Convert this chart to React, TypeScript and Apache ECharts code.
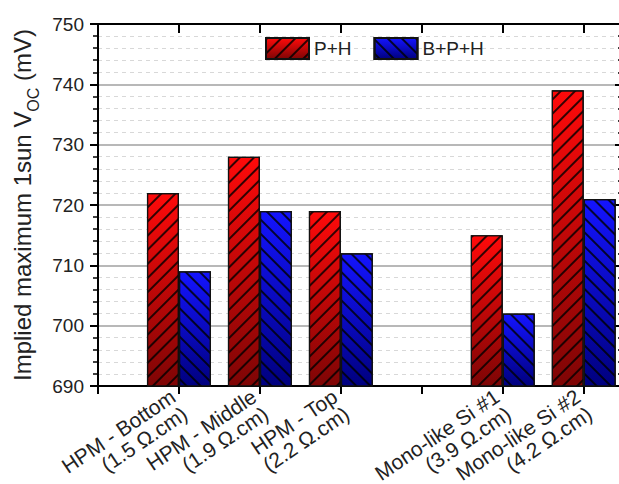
import React, { useEffect, useRef } from "react";
import * as echarts from "echarts";

const categories = [
  "HPM - Bottom\n(1.5 Ω.cm)",
  "HPM - Middle\n(1.9 Ω.cm)",
  "HPM - Top\n(2.2 Ω.cm)",
  "",
  "Mono-like Si #1\n(3.9 Ω.cm)",
  "Mono-like Si #2\n(4.2 Ω.cm)",
];
const seriesNames = ["P+H", "B+P+H"];
const phValues: (number | null)[] = [722, 728, 719, null, 715, 739];
const bphValues: (number | null)[] = [709, 719, 712, null, 702, 721];
const yMin = 690;
const yMax = 750;
const yStep = 10;

const FONT = "Arial, 'Liberation Sans', sans-serif";

function toPoints(vals: (number | null)[]) {
  return vals.map((v, i) => (v == null ? [i + 1, null] : [i + 1, v]));
}

function grad(top: string, bottom: string) {
  return new echarts.graphic.LinearGradient(0, 0, 0, 1, [
    { offset: 0, color: top },
    { offset: 1, color: bottom },
  ]);
}

export default function App() {
  const ref = useRef<HTMLDivElement>(null);
  useEffect(() => {
    document.body.style.margin = "0";
    const chart = echarts.init(ref.current!, null, { renderer: "svg" });
    const xCommon = {
      type: "value",
      min: 0,
      max: 6.46,
      interval: 1,
      splitLine: { show: false },
    };
    const yCommon = {
      type: "value",
      min: yMin,
      max: yMax,
      interval: yStep,
    };
    chart.setOption({
      animation: false,
      backgroundColor: "#ffffff",
      grid: { left: 98, top: 24, right: -2, bottom: 98, containLabel: false, outerBoundsMode: "none" },
      legend: {
        data: seriesNames,
        left: 265,
        top: 37,
        padding: 0,
        icon: "rect",
        itemWidth: 43,
        itemHeight: 21,
        itemGap: 22,
        textStyle: { fontSize: 19, color: "#222", fontFamily: FONT },
      },
      xAxis: [
        {
          ...xCommon,
          position: "bottom",
          axisLine: { show: true, onZero: false, lineStyle: { color: "#000", width: 2 } },
          axisTick: { show: true, inside: false, length: 8, lineStyle: { color: "#000", width: 2 } },
          axisLabel: {
            rotate: 34,
            margin: 17,
            fontSize: 21,
            color: "#222",
            fontFamily: FONT,
            lineHeight: 21,
            showMaxLabel: false,
            formatter: (v: number) => {
              const i = Math.round(v);
              if (Math.abs(v - i) > 1e-6 || i < 1 || i > categories.length) return "";
              return categories[i - 1];
            },
          },
        },
        {
          ...xCommon,
          position: "top",
          axisLine: { show: true, onZero: false, lineStyle: { color: "#000", width: 2 } },
          axisTick: { show: true, inside: true, length: 9, lineStyle: { color: "#000", width: 2 } },
          axisLabel: { show: false },
        },
      ],
      yAxis: [
        {
          ...yCommon,
          position: "left",
          name: "{a|Implied maximum 1sun V}{s|OC}{a| (mV)}",
          nameLocation: "middle",
          nameRotate: 90,
          nameGap: 60,
          nameTextStyle: {
            rich: {
              a: { fontSize: 24, color: "#222", fontFamily: FONT, lineHeight: 27, verticalAlign: "bottom" },
              s: { fontSize: 16, color: "#222", fontFamily: FONT, lineHeight: 16, verticalAlign: "bottom", padding: [0, 0, -7, 0] },
            },
          },
          axisLine: { show: true, onZero: false, lineStyle: { color: "#000", width: 2 } },
          axisTick: { show: true, inside: false, length: 8, lineStyle: { color: "#000", width: 2 } },
          minorTick: { show: true, splitNumber: 5, length: 5, lineStyle: { color: "#000", width: 1.5 } },
          axisLabel: { margin: 14, fontSize: 19, color: "#222", fontFamily: FONT },
          splitLine: { show: true, lineStyle: { color: "#a0a0a0", width: 1.5 } },
          minorSplitLine: { show: true, lineStyle: { color: "#d8d8d8", width: 1, type: [4, 4] } },
        },
        {
          ...yCommon,
          position: "right",
          axisLine: { show: true, onZero: false, lineStyle: { color: "#000", width: 2 } },
          axisTick: { show: true, inside: true, length: 6, lineStyle: { color: "#000", width: 2 } },
          minorTick: { show: true, splitNumber: 5, length: 3, lineStyle: { color: "#000", width: 1.5 } },
          axisLabel: { show: false },
          splitLine: { show: false },
        },
      ],
      series: [
        {
          name: seriesNames[0],
          type: "bar",
          xAxisIndex: 0,
          yAxisIndex: 0,
          barWidth: 32,
          barGap: "0%",
          data: toPoints(phValues),
          itemStyle: {
            color: grad("#ff0a0a", "#7e0505"),
            borderColor: "#111",
            borderWidth: 1.2,
            decal: {
              symbol: "rect",
              symbolSize: 1,
              color: "rgba(0,0,0,0.8)",
              backgroundColor: "rgba(0,0,0,0)",
              dashArrayX: [1, 0],
              dashArrayY: [2, 8],
              rotation: -Math.PI / 4,
            },
          },
        },
        {
          name: seriesNames[1],
          type: "bar",
          xAxisIndex: 0,
          yAxisIndex: 0,
          barWidth: 32,
          barGap: "0%",
          data: toPoints(bphValues),
          itemStyle: {
            color: grad("#1414ff", "#00007e"),
            borderColor: "#111",
            borderWidth: 1.2,
            decal: {
              symbol: "rect",
              symbolSize: 1,
              color: "rgba(0,0,0,0.8)",
              backgroundColor: "rgba(0,0,0,0)",
              dashArrayX: [1, 0],
              dashArrayY: [2, 8],
              rotation: Math.PI / 4,
            },
          },
        },
      ],
    });
    return () => chart.dispose();
  }, []);
  return <div ref={ref} style={{ width: 619, height: 484, position: "absolute", left: 0, top: 0 }} />;
}
